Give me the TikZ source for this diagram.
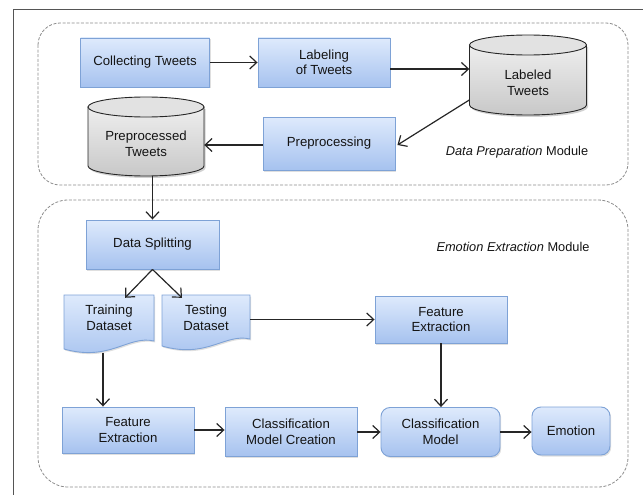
\documentclass[tikz,border=0pt]{standalone}
\usepackage{fontspec}
\setmainfont{Liberation Sans}
\usetikzlibrary{arrows.meta,shadows,calc}
\definecolor{btop}{HTML}{DEEAFC}
\definecolor{bbot}{HTML}{A6C2EF}
\definecolor{bborder}{HTML}{7EA2D6}
\definecolor{txt}{HTML}{141414}
\definecolor{ctop}{HTML}{EEEEEE}
\definecolor{cbot}{HTML}{C8C8C8}
\definecolor{cend}{HTML}{E2E2E2}
\definecolor{modline}{HTML}{8C8C8C}
\definecolor{frame}{HTML}{555555}
\pgfdeclareverticalshading{cylsh}{100bp}{color(0bp)=(cbot); color(25bp)=(cbot); color(75bp)=(ctop); color(100bp)=(ctop)}
\begin{document}
\begin{tikzpicture}[x=1pt,y=-1pt,
  font=\fontsize{13.2}{15.5}\selectfont,
  shd/.style={drop shadow={opacity=0.25,shadow xshift=1.2pt,shadow yshift=-1.5pt}},
  box/.style={draw=bborder,line width=0.9pt,top color=btop,bottom color=bbot,
    align=center,text=txt,inner sep=0pt,shd},
  rbox/.style={box,rounded corners=9pt},
  doc/.style={draw=bborder,line width=0.9pt,top color=btop,bottom color=bbot,shd},
  cylshadow/.style={fill=black,opacity=0.18},
  cyl/.style={draw=black!85,line width=0.9pt,shade,shading=cylsh},
  cylend/.style={draw=black!85,line width=0.9pt,fill=cend},
  hold/.style={inner sep=0pt,align=center,text=txt},
  arr/.style={draw=black!85,line width=1.2pt,-{Straight Barb[length=7pt,width=13pt,line width=1.2pt]}},
  module/.style={draw=modline,line width=0.8pt,dash pattern=on 3pt off 1.6pt},
  modlabel/.style={text=txt,inner sep=0pt,font=\fontsize{12.8}{15}\selectfont}]
\useasboundingbox (0,0) rectangle (643,495);
% outer frame
\draw[frame,line width=1pt] (13,500) -- (13,10) -- (650,10);
% module boundaries
\draw[module,rounded corners=22pt] (38,23) rectangle (628,185);
\draw[module,rounded corners=30pt] (38,200) rectangle (628,487);
\node[modlabel] (dpm) at (517,152) {\textit{Data Preparation} Module};
\node[modlabel] (eem) at (513,247) {\textit{Emotion Extraction} Module};
% top module
\node[box,minimum width=129pt,minimum height=49pt] (col) at (145,62.5) {Collecting Tweets};
\node[box,minimum width=132pt,minimum height=49pt] (lab) at (324,62.5) {Labeling\\of Tweets};
\node[box,minimum width=132pt,minimum height=53pt] (pre) at (329,143.5) {Preprocessing};
% Labeled Tweets cylinder
\fill[cylshadow] (471,47) -- (471,107) arc[start angle=180,end angle=360,x radius=58.5pt,y radius=10pt] -- (588,47) -- cycle;
\path[cyl] (469.5,45) -- (469.5,105) arc[start angle=180,end angle=360,x radius=58.5pt,y radius=10pt] -- (586.5,45) -- cycle;
\draw[cylend] (528,45) ellipse[x radius=58.5pt,y radius=10pt];
\node[hold,minimum width=117pt,minimum height=80pt] (ltw) at (528,75) {};
\node[hold] (ltwt) at (528,83) {Labeled\\Tweets};
% Preprocessed Tweets cylinder
\fill[cylshadow] (89.5,109) -- (89.5,168) arc[start angle=180,end angle=360,x radius=58pt,y radius=10pt] -- (205.5,109) -- cycle;
\path[cyl] (88,107) -- (88,166) arc[start angle=180,end angle=360,x radius=58pt,y radius=10pt] -- (204,107) -- cycle;
\draw[cylend] (146,107) ellipse[x radius=58pt,y radius=10pt];
\node[hold,minimum width=116pt,minimum height=79pt] (ptw) at (146,136.5) {};
\node[hold] (ptwt) at (146,144) {Preprocessed\\Tweets};
% bottom module
\node[box,minimum width=133pt,minimum height=49pt] (ds) at (152.5,244.5) {Data Splitting};
% documents
\path[doc] (64,295) -- (154,295) -- (154,341) .. controls (128,335) and (110,362) .. (64,349) -- cycle;
\node[hold,minimum width=90pt,minimum height=58pt] (trn) at (109,324) {};
\node[hold] (trnt) at (109,318) {Training\\Dataset};
\path[doc] (162,295) -- (250,295) -- (250,339) .. controls (225,333) and (207,359) .. (162,346) -- cycle;
\node[hold,minimum width=88pt,minimum height=56pt] (tst) at (206,323) {};
\node[hold] (tstt) at (206,318) {Testing\\Dataset};
\node[box,minimum width=132pt,minimum height=47pt] (fe2) at (441,319.5) {Feature\\Extraction};
\node[box,minimum width=132pt,minimum height=46pt] (fe1) at (128,430) {Feature\\Extraction};
\node[box,minimum width=132pt,minimum height=49pt] (cmc) at (291,432) {Classification\\Model Creation};
\node[rbox,minimum width=119pt,minimum height=49pt] (cm) at (440.5,432) {Classification\\Model};
\node[rbox,minimum width=78pt,minimum height=48pt] (em) at (571,431) {Emotion};
% connectors
\draw[arr] (col.east) -- (lab.west);
\coordinate (p1) at ([yshift=-6.5pt]lab.east);
\draw[arr] (p1) -- (p1 -| ltw.west);
\draw[arr] ([yshift=-25pt]ltw.west) -- ([xshift=2pt,yshift=-1.5pt]pre.east);
\draw[arr] ([yshift=-1.5pt]pre.west) -- ([yshift=-1.5pt]pre.west -| ptw.east);
\draw[arr] (ds.north |- ptw.south) -- (ds.north);
\draw[arr] (ds.south) -- ([xshift=16pt,yshift=-3pt]trn.north);
\draw[arr] (ds.south) -- ([xshift=-24pt,yshift=-3pt]tst.north);
\draw[arr] ([xshift=-25pt]fe1.north |- trn.south) -- ([xshift=-25pt]fe1.north);
\draw[arr] (fe2.west -| tst.east) -- (fe2.west);
\draw[arr] (fe2.south) -- (fe2.south |- cm.north);
\draw[arr] (fe1.east) -- (fe1.east -| cmc.west);
\draw[arr] (cmc.east) -- (cmc.east -| cm.west);
\draw[arr] (cm.east) -- (cm.east -| em.west);
\end{tikzpicture}
\end{document}
